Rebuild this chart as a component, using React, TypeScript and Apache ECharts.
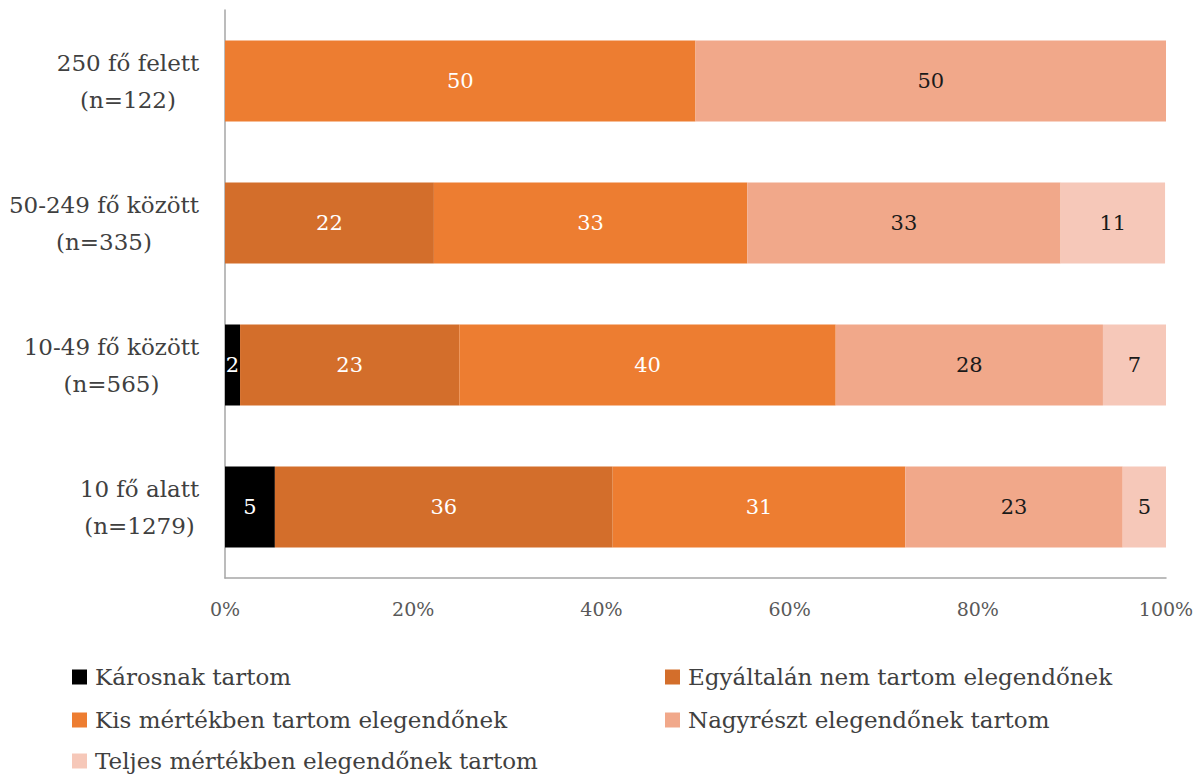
import React, { useEffect, useRef } from 'react';
import * as echarts from 'echarts';

const categories = ['250 fő felett', '50-249 fő között', '10-49 fő között', '10 fő alatt'];
const sampleSizes = ['(n=122)', '(n=335)', '(n=565)', '(n=1279)'];
const seriesNames = [
  'Károsnak tartom',
  'Egyáltalán nem tartom elegendőnek',
  'Kis mértékben tartom elegendőnek',
  'Nagyrészt elegendőnek tartom',
  'Teljes mértékben elegendőnek tartom',
];
const karosnak = [0, 0, 1.6, 5.3];
const egyaltalan = [0, 22.2, 23.3, 35.9];
const kis = [50, 33.3, 40.0, 31.1];
const nagyreszt = [50, 33.3, 28.4, 23.1];
const teljes = [0, 11.1, 6.7, 4.6];
const xTickValues = [0, 20, 40, 60, 80, 100];

const seriesData = [karosnak, egyaltalan, kis, nagyreszt, teljes];
const colors = ['#000000', '#D36E2B', '#ED7D31', '#F1A88A', '#F6C8B9'];
const labelColors = ['#FFFFFF', '#FFFFFF', '#FFFFFF', '#1A1A1A', '#1A1A1A'];
// legend placement: [left, top] per series
const legendPos = [
  [72, 665],
  [665, 665],
  [72, 708],
  [665, 708],
  [72, 749],
];
const FONT = '"DejaVu Serif", serif';

export default function App() {
  const ref = useRef<HTMLDivElement>(null);
  useEffect(() => {
    if (!ref.current) return;
    const chart = echarts.init(ref.current, undefined, { renderer: 'svg' });
    const yFontSize = 23;
    const canvas = document.createElement('canvas');
    const ctx = canvas.getContext('2d')!;
    ctx.font = `${yFontSize}px ${FONT}`;
    const rich: Record<string, any> = {};
    categories.forEach((c, i) => {
      const w = Math.max(ctx.measureText(c).width, ctx.measureText(sampleSizes[i]).width);
      rich['c' + i] = {
        width: Math.ceil(w) + 1,
        align: 'center',
        fontSize: yFontSize,
        lineHeight: 37,
        fontFamily: FONT,
        color: '#404040',
      };
    });

    const option: any = {
      animation: false,
      textStyle: { fontFamily: FONT },
      grid: { left: 225, right: 37, top: 10, bottom: 196, containLabel: false },
      xAxis: {
        type: 'value',
        min: 0,
        max: 100,
        interval: 20,
        axisLine: { show: true, lineStyle: { color: '#A6A6A6', width: 1.5 } },
        axisTick: { show: false },
        splitLine: { show: false },
        axisLabel: {
          formatter: (v: number) => (xTickValues.includes(v) ? `${v}%` : ''),
          fontSize: 19,
          color: '#595959',
          fontFamily: FONT,
          margin: 21,
        },
      },
      yAxis: {
        type: 'category',
        inverse: true,
        data: categories,
        axisLine: { show: true, lineStyle: { color: '#A6A6A6', width: 1.5 } },
        axisTick: { show: false },
        axisLabel: {
          align: 'right',
          margin: 25,
          rich,
          formatter: (v: string) => {
            const i = categories.indexOf(v);
            return `{c${i}|${v}}\n{c${i}|${sampleSizes[i]}}`;
          },
        },
      },
      legend: seriesNames.map((name, i) => ({
        orient: 'horizontal',
        left: legendPos[i][0],
        top: legendPos[i][1],
        itemWidth: 15,
        itemHeight: 15,
        icon: 'rect',
        padding: 0,
        data: [name],
        textStyle: { fontSize: 23, color: '#404040', fontFamily: FONT, lineHeight: 24, padding: [0, 0, 0, 3] },
      })),
      series: seriesNames.map((name, si) => ({
        name,
        type: 'bar',
        stack: 'total',
        barCategoryGap: '43%',
        itemStyle: { color: colors[si] },
        label: {
          show: true,
          position: 'inside',
          color: labelColors[si],
          fontSize: 21,
          fontFamily: FONT,
          formatter: (p: any) => (p.value > 0 ? String(Math.round(p.value)) : ''),
        },
        data: seriesData[si],
      })),
    };
    chart.setOption(option);
    return () => chart.dispose();
  }, []);
  return (
    <div
      ref={ref}
      style={{ position: 'fixed', left: 0, top: 0, width: 1203, height: 774, background: '#FFFFFF' }}
    />
  );
}
